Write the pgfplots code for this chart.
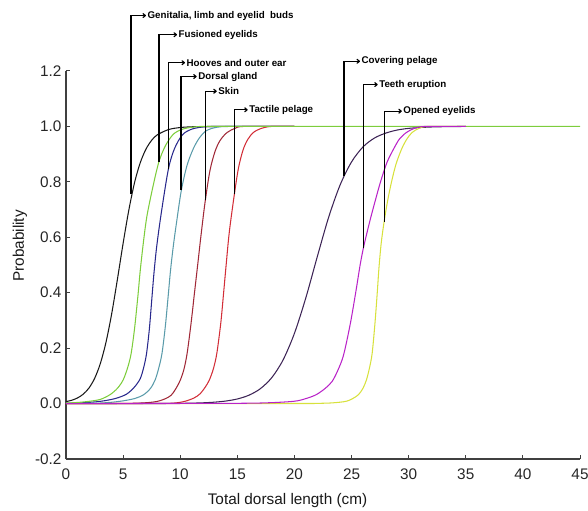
\documentclass[border=0pt]{standalone}
\usepackage{pgfplots}
\pgfplotsset{compat=1.18}
\usepackage{fontspec}
\setmainfont{Liberation Sans}
\usetikzlibrary{arrows.meta}
\definecolor{cBlack}{RGB}{25,25,25}
\definecolor{cGreen}{RGB}{125,205,60}
\definecolor{cNavy}{RGB}{40,40,140}
\definecolor{cTeal}{RGB}{90,155,170}
\definecolor{cDRed}{RGB}{160,40,55}
\definecolor{cRed}{RGB}{210,45,55}
\definecolor{cPurple}{RGB}{60,35,85}
\definecolor{cMag}{RGB}{185,35,200}
\definecolor{cYel}{RGB}{215,225,60}
\begin{document}
\begin{tikzpicture}
\useasboundingbox (-66bp,-52bp) rectangle (522bp,459bp);
\begin{axis}[
  scale only axis, width=514bp, height=388bp,
  xmin=0, xmax=45, ymin=-0.2, ymax=1.2,
  axis lines*=left,
  xtick={0,5,10,15,20,25,30,35,40,45},
  ytick={-0.2,0,0.2,0.4,0.6,0.8,1.0,1.2},
  tick align=inside, major tick length=4bp,
  /pgf/number format/assume math mode=true,
  yticklabel style={/pgf/number format/fixed,/pgf/number format/fixed zerofill,/pgf/number format/precision=1, xshift=-1bp},
  xticklabel style={yshift=-6bp},
  tick label style={font=\fontsize{15.4}{17}\selectfont, text=black!85},
  axis line style={line width=1.3bp, black!75},
  every tick/.style={line width=1bp, black!75},
  xlabel={Total dorsal length (cm)},
  ylabel={Probability},
  label style={font=\fontsize{15.4}{17}\selectfont, text=black!90},
  xlabel style={at={(axis description cs:0.431,0)}, anchor=base, yshift=-45bp},
  ylabel style={at={(axis description cs:0,0.549)}, anchor=base, yshift=42bp},
  clip=false,
  every axis plot/.append style={line width=1.05bp, smooth},
]
% Genitalia, limb and eyelid buds
\addplot[cBlack] coordinates {(0,0.0071)(0.5,0.012)(1,0.0201)(1.5,0.0336)(2,0.0555)(2.5,0.0903)(3,0.1437)(3.5,0.221)(4,0.324)(4.5,0.448)(5,0.578)(5.5,0.698)(6,0.797)(6.5,0.869)(7,0.918)(7.5,0.95)(8,0.97)(9,0.989)(10,0.996)(11,0.9987)(12,0.9995)(14,1)(20,1)};
% Hooves and outer ear
\addplot[cNavy] coordinates {(0,0.001)(1.5,0.003)(3.0,0.008)(4.3,0.018)(5.3,0.034)(6.0,0.06)(6.5,0.09)(6.8,0.13)(7.05,0.18)(7.3,0.27)(7.5,0.37)(7.7,0.47)(7.95,0.57)(8.35,0.69)(8.96,0.845)(9.5,0.92)(10.2,0.97)(11.0,0.99)(12.0,0.998)(13.5,1)(20,1)};
% Dorsal gland
\addplot[cTeal] coordinates {(0,0.0005)(3,0.002)(4.7,0.008)(6.0,0.018)(6.8,0.032)(7.4,0.055)(7.8,0.085)(8.1,0.125)(8.4,0.18)(8.7,0.28)(8.95,0.39)(9.15,0.48)(9.4,0.57)(9.7,0.66)(10.1,0.77)(10.6,0.86)(11.15,0.92)(11.7,0.96)(12.3,0.985)(13.2,0.997)(14.5,1)(20,1)};
% Skin
\addplot[cDRed] coordinates {(0,0)(5,0.0005)(7,0.003)(8.2,0.01)(9.2,0.03)(9.9,0.075)(10.3,0.12)(10.6,0.18)(10.95,0.29)(11.25,0.4)(11.5,0.49)(11.8,0.6)(12.17,0.725)(12.6,0.84)(13.05,0.91)(13.5,0.95)(14.1,0.978)(14.8,0.993)(15.6,1)(20,1)};
% Tactile pelage
\addplot[cRed] coordinates {(0,0)(8,0.0005)(9.5,0.002)(10.4,0.008)(11.2,0.02)(11.73,0.035)(12.2,0.06)(12.55,0.085)(12.9,0.125)(13.2,0.18)(13.55,0.29)(13.8,0.4)(14.02,0.5)(14.3,0.62)(14.74,0.755)(15.1,0.85)(15.5,0.915)(15.9,0.952)(16.4,0.978)(17.1,0.993)(18,1)(20,1)};
% Fusioned eyelids
\addplot[cGreen] coordinates {(0,0.002)(1,0.004)(2,0.008)(3,0.015)(3.85,0.032)(4.5,0.055)(5.0,0.085)(5.4,0.13)(5.7,0.18)(6.0,0.27)(6.3,0.39)(6.5,0.48)(6.8,0.59)(7.1,0.68)(7.65,0.79)(8.14,0.873)(8.7,0.93)(9.4,0.972)(10.2,0.99)(11.2,0.998)(12.5,1)(20,1)(45,1)};
% Covering pelage
\addplot[cPurple] coordinates {(0,0)(8,0.00025)(10,0.00084)(11,0.0015)(12,0.0028)(13,0.0051)(14,0.0092)(15,0.0166)(16,0.0299)(17,0.0532)(18,0.0928)(19,0.157)(20,0.2535)(21,0.382)(22,0.530)(23,0.673)(24,0.789)(25,0.872)(26,0.926)(27,0.958)(28,0.976)(29,0.987)(30,0.993)(31,0.996)(32,0.998)(33,0.999)(35,1)};
% Opened eyelids
\addplot[cYel] coordinates {(0,0)(20,0.0002)(22,0.0008)(23.1,0.002)(24.0,0.005)(24.6,0.009)(25.1,0.018)(25.6,0.032)(26.0,0.055)(26.3,0.085)(26.55,0.125)(26.8,0.18)(27.05,0.29)(27.25,0.4)(27.4,0.49)(27.6,0.58)(27.85,0.656)(28.15,0.73)(28.5,0.8)(28.9,0.865)(29.4,0.92)(29.85,0.955)(30.3,0.978)(30.9,0.993)(31.7,1)(35,1)};
% Teeth eruption
\addplot[cMag] coordinates {(0,0)(12,0.0005)(17,0.002)(19.9,0.008)(21.0,0.018)(21.9,0.032)(22.7,0.055)(23.3,0.08)(23.8,0.12)(24.3,0.175)(24.9,0.29)(25.4,0.41)(25.75,0.5)(26.03,0.56)(26.4,0.625)(26.8,0.69)(27.5,0.795)(28.1,0.87)(28.7,0.92)(29.2,0.955)(29.8,0.978)(30.5,0.993)(31.5,1)(35,1)};
% annotations
\tikzset{ann/.style={line width=1.2bp, black, -{To[length=3.5bp,width=5bp]}},
         annt/.style={anchor=west, inner sep=1bp, font=\fontsize{9.8}{11}\selectfont\bfseries}}
\draw[ann] (axis cs:5.69,0.755) -- (axis cs:5.69,1.40) -- (axis cs:7.0,1.40) node[annt] {Genitalia, limb and eyelid\ \ buds};
\draw[ann] (axis cs:8.14,0.873) -- (axis cs:8.14,1.331) -- (axis cs:9.72,1.331) node[annt] {Fusioned eyelids};
\draw[ann] (axis cs:8.96,0.845) -- (axis cs:8.96,1.23) -- (axis cs:10.42,1.23) node[annt] {Hooves and outer ear};
\draw[ann] (axis cs:10.07,0.77) -- (axis cs:10.07,1.18) -- (axis cs:11.44,1.18) node[annt] {Dorsal gland};
\draw[ann] (axis cs:12.2,0.735) -- (axis cs:12.2,1.127) -- (axis cs:13.2,1.127) node[annt] {Skin};
\draw[ann] (axis cs:14.74,0.755) -- (axis cs:14.74,1.06) -- (axis cs:15.91,1.06) node[annt] {Tactile pelage};
\draw[ann] (axis cs:24.34,0.82) -- (axis cs:24.34,1.235) -- (axis cs:25.74,1.235) node[annt] {Covering pelage};
\draw[ann] (axis cs:26.03,0.56) -- (axis cs:26.03,1.151) -- (axis cs:27.29,1.151) node[annt] {Teeth eruption};
\draw[ann] (axis cs:27.85,0.656) -- (axis cs:27.85,1.055) -- (axis cs:29.4,1.055) node[annt] {Opened eyelids};
\end{axis}
\end{tikzpicture}
\end{document}
